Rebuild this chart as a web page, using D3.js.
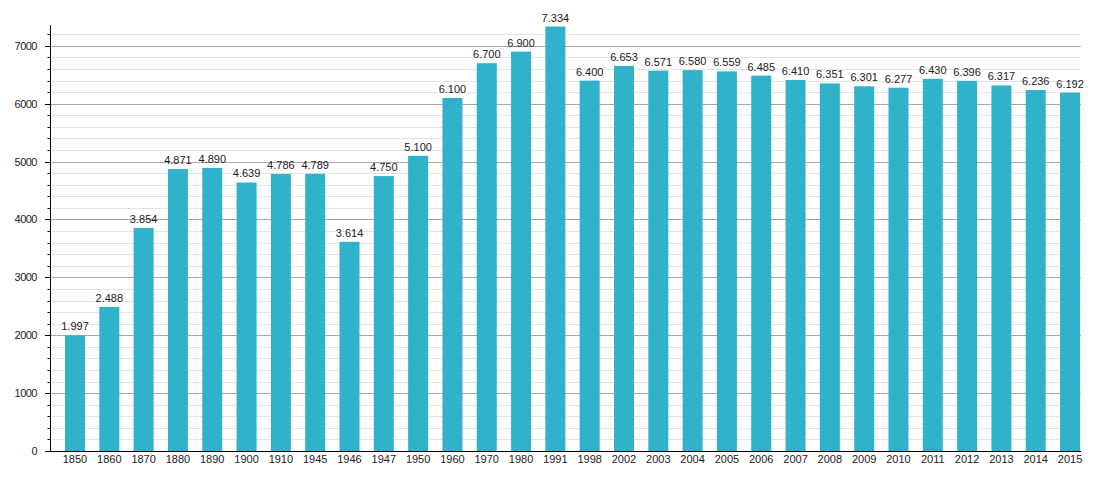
<!DOCTYPE html>
<html><head><meta charset="utf-8">
<script src="https://cdn.jsdelivr.net/npm/d3@7"></script>
<style>body{margin:0;background:#fff;} text{font-family:"Liberation Sans",Arial,sans-serif;}</style>
</head><body><svg id="c" width="1100" height="480"></svg>
<script>
const categories = ["1850","1860","1870","1880","1890","1900","1910","1945","1946","1947","1950","1960","1970","1980","1991","1998","2002","2003","2004","2005","2006","2007","2008","2009","2010","2011","2012","2013","2014","2015"];
const population = [1997,2488,3854,4871,4890,4639,4786,4789,3614,4750,5100,6100,6700,6900,7334,6400,6653,6571,6580,6559,6485,6410,6351,6301,6277,6430,6396,6317,6236,6192];
const majorTicks = [0,1000,2000,3000,4000,5000,6000,7000];

const svg = d3.select("#c");
const axisX0 = 50, axisX1 = 1081, y0 = 451;
const y = d3.scaleLinear().domain([0, 7360]).range([y0, 25]);
const x = d3.scaleBand().domain(categories).range([57.85, 1087.2]).paddingInner(0.417).paddingOuter(0.2085);

const minorTicks = d3.range(200, 7360, 200).filter(v => v % 1000 !== 0);
svg.append("g").selectAll("line").data(minorTicks).join("line")
  .attr("x1", axisX0).attr("x2", axisX1)
  .attr("y1", d => Math.round(y(d)) + 0.5).attr("y2", d => Math.round(y(d)) + 0.5)
  .attr("stroke", "#e3e3e3").attr("stroke-width", 1);
svg.append("g").selectAll("line").data(majorTicks.filter(d => d > 0)).join("line")
  .attr("x1", axisX0).attr("x2", axisX1)
  .attr("y1", d => Math.round(y(d)) + 0.5).attr("y2", d => Math.round(y(d)) + 0.5)
  .attr("stroke", "#a8a8a8").attr("stroke-width", 1);

svg.append("g").selectAll("rect").data(population).join("rect")
  .attr("x", (d, i) => x(categories[i]))
  .attr("width", x.bandwidth())
  .attr("y", d => y(d))
  .attr("height", d => y0 - y(d))
  .attr("fill", "#31b2cb");

const fmt = d3.formatLocale({decimal: ",", thousands: ".", grouping: [3], currency: ["", ""]}).format(",d");
svg.append("g").selectAll("text").data(population).join("text")
  .attr("x", (d, i) => x(categories[i]) + x.bandwidth() / 2)
  .attr("y", d => y(d) - 5)
  .attr("text-anchor", "middle")
  .attr("font-size", 11).attr("fill", "#222")
  .text(d => fmt(d));

const yAxis = svg.append("g");
yAxis.append("line").attr("x1", axisX0 + 0.5).attr("x2", axisX0 + 0.5).attr("y1", 25).attr("y2", y0 + 1).attr("stroke", "#000");
yAxis.selectAll(".mj").data(majorTicks).join("line").attr("class", "mj")
  .attr("x1", axisX0 - 5).attr("x2", axisX0)
  .attr("y1", d => Math.round(y(d)) + 0.5).attr("y2", d => Math.round(y(d)) + 0.5)
  .attr("stroke", "#000");
yAxis.selectAll(".mn").data(minorTicks).join("line").attr("class", "mn")
  .attr("x1", axisX0 - 2.5).attr("x2", axisX0)
  .attr("y1", d => Math.round(y(d)) + 0.5).attr("y2", d => Math.round(y(d)) + 0.5)
  .attr("stroke", "#000");
yAxis.selectAll("text").data(majorTicks).join("text")
  .attr("x", 37).attr("y", d => y(d) + 4)
  .attr("text-anchor", "end").attr("font-size", 11).attr("fill", "#222")
  .attr("letter-spacing", -0.5)
  .text(d => d);

const xAxis = svg.append("g");
xAxis.append("line").attr("x1", axisX0).attr("x2", axisX1).attr("y1", y0 + 0.5).attr("y2", y0 + 0.5).attr("stroke", "#000");
xAxis.selectAll("text").data(categories).join("text")
  .attr("x", d => x(d) + x.bandwidth() / 2).attr("y", 463)
  .attr("text-anchor", "middle").attr("font-size", 11).attr("fill", "#222")
  .text(d => d);
</script></body></html>
